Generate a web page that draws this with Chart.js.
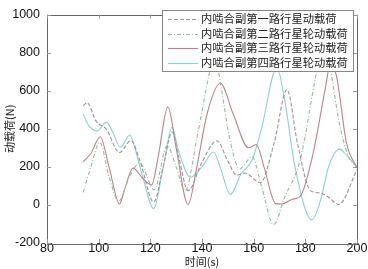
<!DOCTYPE html>
<html>
<head>
<meta charset="utf-8">
<script src="https://cdn.jsdelivr.net/npm/chart.js@4.4.0/dist/chart.umd.min.js"></script>
<style>
  html, body { margin: 0; padding: 0; background: #fff; }
  #wrap { width: 368px; height: 269px; }
</style>
</head>
<body>
<div id="wrap"><canvas id="loadChart"></canvas></div>
<script>
// series labels
const seriesNames = [
    '内啮合副第一路行星动载荷',
    '内啮合副第二路行星轮动载荷',
    '内啮合副第三路行星轮动载荷',
    '内啮合副第四路行星轮动载荷'
];

// time (s) and load (N), one pair of arrays per series
const t1 = [94, 95.5, 99, 103, 108, 112.5, 116, 121.3, 125, 128.4, 131, 134.6, 140, 145.8, 150, 153.5, 156.5, 162.6, 168, 172.9, 177, 182, 185.8, 189, 192.9, 200];
const load1 = [520, 537, 440, 397, 275, 337, 230, 15, 200, 383, 250, 75, 225, 337, 230, 156, 168, 117, 330, 605, 320, 75, 63, 40, 2, 185];

const t2 = [94, 97, 100.4, 104, 107.7, 112, 115.9, 121.5, 126.5, 130, 133.5, 138, 142.6, 144.8, 147.1, 151, 154.6, 159.4, 163, 167.7, 172, 178, 183.9, 186.5, 189.7, 193, 196.5, 200];
const load2 = [66, 200, 329, 150, 19, 150, 219, 80, 312, 200, 75, 350, 676, 800, 642, 330, 190, 253, 100, -103, 40, 236, 668, 850, 710, 440, 260, 200];

const t3 = [94, 97, 100.6, 104, 108.1, 110, 113.3, 117, 120.5, 123, 126.8, 130, 134.6, 138, 142, 147.1, 152, 158, 161, 164, 168.5, 171, 175, 178, 183, 187.7, 189.7, 192, 196, 200];
const load3 = [227, 270, 358, 200, 5, 80, 193, 140, 105, 250, 515, 300, 2, 200, 480, 639, 480, 300, 317, 200, 7, 5, 30, 45, 270, 609, 740, 680, 320, 195];

const t4 = [94, 96, 99.4, 103, 105.5, 108.4, 112, 114, 117, 121.3, 125, 128.4, 131, 135.5, 140, 144.5, 147, 151, 155, 159.4, 163, 169, 172, 176, 182.6, 186, 189, 193.2, 196, 200];
const load4 = [476, 420, 388, 435, 380, 303, 366, 300, 150, -19, 200, 408, 280, 146, 200, 278, 200, 54, 160, 236, 400, 720, 550, 200, -78, 30, 200, 293, 260, 197];

// axis ticks
const xTicks = [80, 100, 120, 140, 160, 180, 200];
const yTicks = [-200, 0, 200, 400, 600, 800, 1000];

const colors = ['#9c9198', '#92bb9c', '#b98389', '#8ad2d2'];
const dashes = [[4, 2], [4, 2, 1, 2], [], []];

function toPoints(xs, ys) {
    return xs.map((x, i) => ({ x: x, y: ys[i] }));
}

const datasets = [[t1, load1], [t2, load2], [t3, load3], [t4, load4]].map((s, i) => ({
    label: seriesNames[i],
    data: toPoints(s[0], s[1]),
    borderColor: colors[i],
    borderWidth: 1.1,
    borderDash: dashes[i],
    pointRadius: 0,
    fill: false,
    cubicInterpolationMode: 'monotone'
}));

// box, inward ticks, axis titles and the legend inside the plot
const framePlugin = {
    id: 'frame',
    afterDatasetsDraw(chart) {
        const { ctx, chartArea: a, scales } = chart;
        ctx.save();
        ctx.strokeStyle = '#666';
        ctx.lineWidth = 1;
        ctx.strokeRect(Math.round(a.left) + 0.5, Math.round(a.top) + 0.5,
            Math.round(a.right - a.left), Math.round(a.bottom - a.top));

        ctx.strokeStyle = '#999';
        ctx.beginPath();
        xTicks.forEach(v => {
            const x = Math.round(scales.x.getPixelForValue(v)) + 0.5;
            ctx.moveTo(x, a.bottom); ctx.lineTo(x, a.bottom - 4);
            ctx.moveTo(x, a.top); ctx.lineTo(x, a.top + 4);
        });
        yTicks.forEach(v => {
            const y = Math.round(scales.y.getPixelForValue(v)) + 0.5;
            ctx.moveTo(a.left, y); ctx.lineTo(a.left + 4, y);
            ctx.moveTo(a.right, y); ctx.lineTo(a.right - 4, y);
        });
        ctx.stroke();

        // legend
        const lx = 162, ly = 10, lw = 191, lh = 61;
        ctx.fillStyle = '#fff';
        ctx.fillRect(lx, ly, lw, lh);
        ctx.strokeStyle = '#888';
        ctx.strokeRect(lx + 0.5, ly + 0.5, lw, lh);
        ctx.font = '11.3px "Noto Sans CJK SC"';
        ctx.textBaseline = 'middle';
        ctx.textAlign = 'left';
        chart.data.datasets.forEach((ds, i) => {
            const y = ly + 9 + i * 14.5;
            ctx.strokeStyle = ds.borderColor;
            ctx.lineWidth = 1.1;
            ctx.setLineDash(ds.borderDash);
            ctx.beginPath();
            ctx.moveTo(168, Math.round(y) + 0.5);
            ctx.lineTo(198, Math.round(y) + 0.5);
            ctx.stroke();
            ctx.setLineDash([]);
            ctx.fillStyle = '#222';
            ctx.fillText(ds.label, 201, y);
        });

        // axis titles
        ctx.fillStyle = '#222';
        ctx.font = '11px "Noto Sans CJK SC"';
        ctx.textAlign = 'center';
        ctx.fillText('时间(s)', (a.left + a.right) / 2, 262);
        ctx.translate(10, (a.top + a.bottom) / 2);
        ctx.rotate(-Math.PI / 2);
        ctx.fillText('动载荷(N)', 0, 0);
        ctx.restore();
    }
};

const tickFont = { family: 'Liberation Sans', size: 12.5 };

new Chart(document.getElementById('loadChart'), {
    type: 'line',
    data: { datasets: datasets },
    options: {
        responsive: true,
        maintainAspectRatio: false,
        animation: false,
        layout: { padding: { top: 6, right: 11, left: 0, bottom: 0 } },
        plugins: {
            legend: { display: false },
            tooltip: { enabled: false }
        },
        scales: {
            x: {
                type: 'linear',
                min: 80,
                max: 200,
                afterBuildTicks: s => { s.ticks = xTicks.map(v => ({ value: v })); },
                afterFit: s => { s.height = 26; },
                grid: { display: false, drawTicks: false, tickLength: 0 },
                border: { display: false },
                ticks: { color: '#111', padding: -2, font: tickFont, callback: v => String(v) }
            },
            y: {
                min: -200,
                max: 1000,
                afterBuildTicks: s => { s.ticks = yTicks.map(v => ({ value: v })); },
                afterFit: s => { s.width = 47; },
                grid: { display: false, drawTicks: false, tickLength: 0 },
                border: { display: false },
                ticks: { color: '#111', padding: 7, font: tickFont, callback: v => String(v) }
            }
        }
    },
    plugins: [framePlugin]
});
</script>
</body>
</html>
